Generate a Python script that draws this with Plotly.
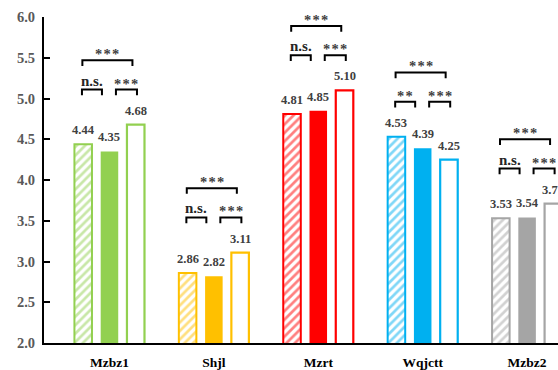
import plotly.graph_objects as go

# ---- data ----
categories = ["Mzbz1", "Shjl", "Mzrt", "Wqjctt", "Mzbz2"]
hatched_vals = [4.44, 2.86, 4.81, 4.53, 3.53]
solid_vals = [4.35, 2.82, 4.85, 4.39, 3.54]
outline_vals = [4.68, 3.11, 5.10, 4.25, 3.71]
sig_left = ["n.s.", "n.s.", "n.s.", "**", "n.s."]
sig_right = ["***", "***", "***", "***", "***"]
sig_outer = ["***", "***", "***", "***", "***"]
colors = ["#92D050", "#FFC000", "#FF0000", "#00B0F0", "#A5A5A5"]
y_ticks = [2.0, 2.5, 3.0, 3.5, 4.0, 4.5, 5.0, 5.5, 6.0]

# ---- styling ----
SERIF = "Liberation Serif, Times New Roman, serif"
BARGAP = 0.2455
BARGROUPGAP = 0.332
PITCH = (1 - BARGAP) / 3          # distance between bar centres in a group
SMALL_OFF = 0.43                  # bracket heights above the tallest bar
BIG_OFF = 0.79
LEG = 0.07

xs = list(range(len(categories)))

fig = go.Figure()

fig.add_trace(go.Bar(
    x=xs, y=hatched_vals,
    marker=dict(
        color="white",
        line=dict(color=colors, width=2),
        pattern=dict(shape="/", fgcolor=colors, bgcolor="white", size=6, solidity=0.45),
    ),
    showlegend=False,
))
fig.add_trace(go.Bar(
    x=xs, y=solid_vals,
    marker=dict(color=colors, line=dict(width=0)),
    showlegend=False,
))
fig.add_trace(go.Bar(
    x=xs, y=outline_vals,
    marker=dict(color="white", line=dict(color=colors, width=2.2)),
    showlegend=False,
))

annotations = []
shapes = []

# value labels above each bar
for k, vals in enumerate([hatched_vals, solid_vals, outline_vals]):
    for i, v in enumerate(vals):
        annotations.append(dict(
            x=i + (k - 1) * PITCH, y=v, xref="x", yref="y",
            text=f"{v:.2f}", showarrow=False, yanchor="bottom",
            yshift=5,
            font=dict(family=SERIF, size=12.5, color="#404040", weight="bold"),
        ))


def bracket(x0, x1, y):
    return dict(
        type="path", xref="x", yref="y",
        path=f"M {x0},{y - LEG} L {x0},{y} L {x1},{y} L {x1},{y - LEG}",
        line=dict(color="black", width=2),
    )


def sig_text(x, y, text):
    is_star = text.startswith("*")
    shown = "\u200a".join(text) if is_star else text
    return dict(
        x=x, y=y, xref="x", yref="y", text=shown, showarrow=False,
        yanchor="bottom", yshift=-4 if is_star else -1,
        font=dict(family=SERIF, size=14.5 if is_star else 15,
                  color="#404040" if is_star else "#262626", weight="bold"),
    )


for i in xs:
    top = max(hatched_vals[i], solid_vals[i], outline_vals[i])
    ys = top + SMALL_OFF
    yb = top + BIG_OFF
    lx0, lx1 = i - PITCH - 0.012, i - 0.072
    rx0, rx1 = i + 0.062, i + PITCH + 0.012
    bx0, bx1 = i - PITCH - 0.008, i + 0.22
    shapes += [bracket(lx0, lx1, ys), bracket(rx0, rx1, ys), bracket(bx0, bx1, yb)]
    annotations += [
        sig_text((lx0 + lx1) / 2, ys, sig_left[i]),
        sig_text((rx0 + rx1) / 2, ys, sig_right[i]),
        sig_text((bx0 + bx1) / 2, yb, sig_outer[i]),
    ]

fig.update_layout(
    width=558, height=370,
    margin=dict(l=44, r=0, t=17, b=27, pad=0),
    paper_bgcolor="white", plot_bgcolor="white",
    barmode="group", bargap=BARGAP, bargroupgap=BARGROUPGAP,
    annotations=annotations, shapes=shapes,
    xaxis=dict(
        range=[-0.627, 4.296], tickvals=xs, ticktext=categories,
        showline=True, linecolor="black", linewidth=2,
        ticks="", showgrid=False, zeroline=False,
        tickfont=dict(family=SERIF, size=13.5, color="black", weight="bold"),
        ticklabelstandoff=6,
    ),
    yaxis=dict(
        range=[2, 6], tickvals=y_ticks, ticktext=[f"{t:.1f}" for t in y_ticks],
        showline=True, linecolor="black", linewidth=2,
        ticks="inside", ticklen=6, tickwidth=2, tickcolor="black",
        showgrid=False, zeroline=False,
        tickfont=dict(family=SERIF, size=14.5, color="#595959", weight="bold"),
        ticklabelstandoff=4,
    ),
)

fig.write_html("out.html")
